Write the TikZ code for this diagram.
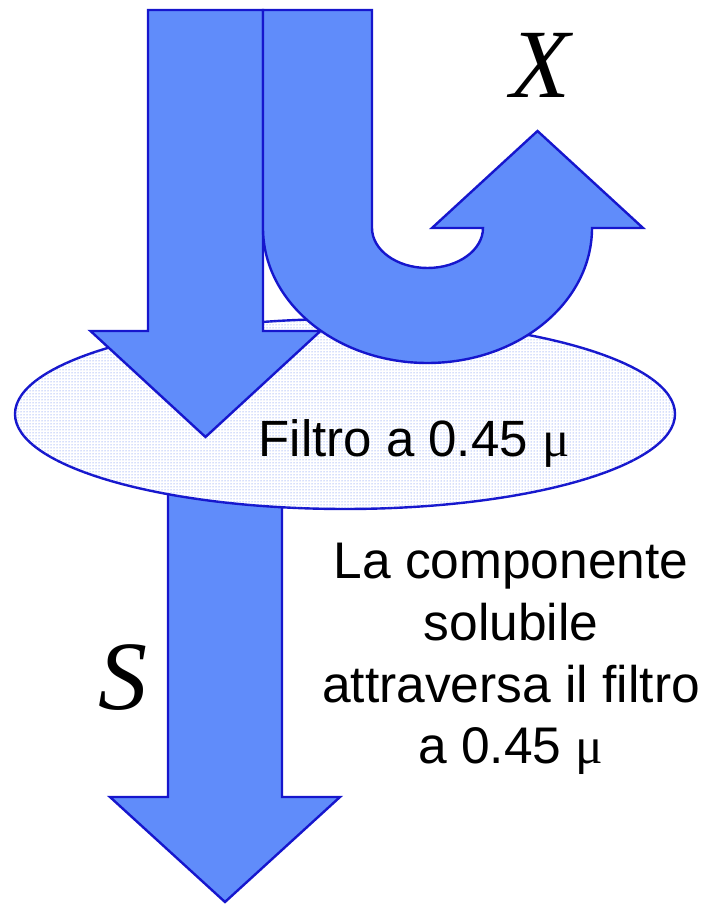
\documentclass[tikz,border=0pt]{standalone}
\usepackage{fontspec}
\setmainfont{Liberation Sans}
\newfontfamily\timesfont{Liberation Serif}
\usepackage{tikz}
\usetikzlibrary{
    positioning,
    calc,
    shapes.geometric,
    patterns
}
\definecolor{flowfill}{RGB}{96,140,250}
\definecolor{flowline}{RGB}{22,22,205}
\definecolor{dotblue}{RGB}{80,118,238}
\tikzset{
    flowarrow/.style={
        draw=flowline,
        line width=2.4pt,
        line join=miter,
        fill=flowfill
    }
}
\tikzset{
    filterdisk/.style={
        ellipse,
        draw=flowline,
        line width=2.4pt,
        fill=white,
        inner sep=0pt,
        postaction={pattern=dots, pattern color=dotblue}
    }
}
\tikzset{
    flowname/.style={
        font=\fontsize{98}{100}\selectfont\timesfont\itshape,
        inner sep=0pt
    }
}
\tikzset{
    note/.style={
        align=center,
        inner sep=0pt
    }
}

\begin{document}
\begin{tikzpicture}[x=1pt, y=1pt]
\useasboundingbox (0,0) rectangle (706,904);

% ------------------------------------------------------------
% Filtrate: soluble part leaving below the filter
% ------------------------------------------------------------
\draw[flowarrow] (168,424) -- (168,107) -- (110,107) -- (225,2)
    -- (340,107) -- (282,107) -- (282,424) -- cycle;

% ------------------------------------------------------------
% Filter
% ------------------------------------------------------------
\node[filterdisk, minimum width=660pt, minimum height=190pt] (filtro) at (345,490) {};
\node[note, anchor=base, font=\fontsize{51}{56}\selectfont] (filtrotext) at (414,447)
    {Filtro a 0.45 {\timesfont μ}};

% ------------------------------------------------------------
% Incoming sample and retained part
% ------------------------------------------------------------
\draw[flowarrow] (148,894) -- (148,573) -- (90.5,573) -- (205.5,467)
    -- (320.5,573) -- (263,573) -- (263,894) -- cycle;

\draw[flowarrow] (263,894) -- (263,676)
    arc[start angle=180, end angle=360, x radius=164.5, y radius=135]
    -- (643,676) -- (537.5,773) -- (432,676) -- (483,676)
    arc[start angle=0, end angle=-180, x radius=55.5, y radius=40]
    -- (372,894) -- cycle;

% ------------------------------------------------------------
% Labels
% ------------------------------------------------------------
\node[flowname] (labelX) at (540,839) {X};
\node[flowname] (labelS) at (123,226) {S};

\node[note, anchor=north, font=\fontsize{51.5}{61.7}\selectfont] (solubile) at (511,361)
    {La componente\\solubile\\attraversa il filtro\\a 0.45 {\timesfont μ}};

\end{tikzpicture}
\end{document}
